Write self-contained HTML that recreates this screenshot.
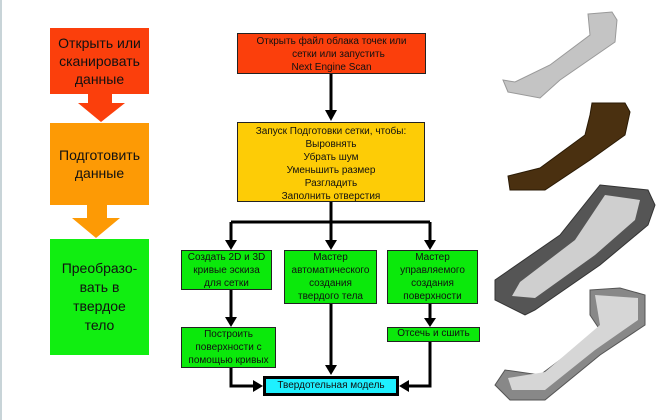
<!DOCTYPE html>
<html><head><meta charset="utf-8"><style>
body{margin:0;width:662px;height:420px;background:#fff;position:relative;overflow:hidden;font-family:"Liberation Sans",sans-serif}
.b{position:absolute;box-sizing:border-box;text-align:center;color:#111}
.l{font-size:14px;line-height:18px;display:flex;align-items:center;justify-content:center}
.f{font-size:10px;line-height:13px;border:1px solid #222}
.g{background:#0be90b}
</style></head><body>
<div style="position:absolute;left:0;top:0;width:2px;height:420px;background:#c8d4d8"></div>
<div class="b l" style="left:50px;top:28px;width:99px;height:66px;background:#fb3f0c">Открыть или<br>сканировать<br>данные</div>
<div class="b l" style="left:50px;top:123px;width:99px;height:82px;background:#fd9a05">Подготовить<br>данные</div>
<div class="b l" style="left:50px;top:239px;width:99px;height:116px;background:#11ee11;line-height:19px">Преобразо-<br>вать в<br>твердое<br>тело</div>
<svg style="position:absolute;left:0;top:0" width="662" height="420">
<rect x="88" y="94" width="24" height="10" fill="#fb3f0c"/><polygon points="78,103 125,103 101,122" fill="#fb3f0c"/>
<rect x="87" y="205" width="20" height="13" fill="#fd9a05"/><polygon points="72,218 120,218 96,238" fill="#fd9a05"/>
<g stroke="#000" stroke-width="3" fill="none">
<path d="M331 74V112"/><path d="M331 202V222M231 222H430M231 222V242M331 222V242M430 222V242"/>
<path d="M231 290V320"/><path d="M331 304V367"/><path d="M430 304V321"/>
<path d="M231 368V386H256"/><path d="M430 342V386H406"/>
</g>
<g fill="#000">
<polygon points="325,110 337,110 331,121"/>
<polygon points="225,240 237,240 231,250"/><polygon points="325,240 337,240 331,250"/><polygon points="424,240 436,240 430,250"/>
<polygon points="225,317 237,317 231,327"/><polygon points="325,365 337,365 331,375"/><polygon points="424,318 436,318 430,327"/>
<polygon points="253,380 253,392 263,386"/><polygon points="409,380 409,392 399,386"/>
</g>
<polygon points="588,14 612,12 617,20 615,42 560,80 540,98 508,92 503,80 515,82 550,65 590,35" fill="#c4c4c4" stroke="#999"/>
<polygon points="592,103 625,103 630,112 625,135 590,160 545,190 510,190 508,176 540,168 585,135 590,115" fill="#4a3010" stroke="#2a1a05"/>
<polygon points="600,185 648,190 655,205 648,225 600,265 535,310 525,315 495,300 495,280 560,235" fill="#555" stroke="#333"/>
<polygon points="605,195 640,200 635,220 595,255 535,298 512,296 520,282 575,240" fill="#cfcfcf"/>
<polygon points="590,290 620,288 645,295 645,325 600,355 545,400 510,400 495,385 505,370 540,375 600,330 590,315" fill="#888" stroke="#555"/>
<polygon points="595,295 638,298 638,320 595,350 545,390 512,390 508,378 545,372 600,325" fill="#d6d6d6"/>
</svg>
<div class="b f" style="left:237px;top:33px;width:189px;height:41px;background:#fb3f0c;padding-top:1px">Открыть файл облака точек или<br>&nbsp;&nbsp;&nbsp;&nbsp;&nbsp;сетки или запустить<br>Next Engine Scan</div>
<div class="b f" style="left:237px;top:122px;width:188px;height:80px;background:#fdcc06;padding-top:2px">Запуск Подготовки сетки, чтобы:<br>Выровнять<br>Убрать шум<br>Уменьшить размер<br>Разгладить<br>Заполнить отверстия</div>
<div class="b f g" style="left:181px;top:250px;width:91px;height:40px">Создать 2D и 3D<br>кривые эскиза<br>для сетки</div>
<div class="b f g" style="left:284px;top:250px;width:93px;height:54px">Мастер<br>автоматического<br>создания<br>твердого тела</div>
<div class="b f g" style="left:387px;top:250px;width:91px;height:54px">Мастер<br>управляемого<br>создания<br>поверхности</div>
<div class="b f g" style="left:181px;top:327px;width:95px;height:41px">Построить<br>поверхности с<br>помощью кривых</div>
<div class="b f g" style="left:387px;top:327px;width:93px;height:15px;line-height:12px">Отсечь и сшить</div>
<div class="b" style="left:263px;top:376px;width:136px;height:20px;background:#1ef0ff;border:3px solid #000;font-size:10px;line-height:14px">Твердотельная модель</div>
</body></html>
